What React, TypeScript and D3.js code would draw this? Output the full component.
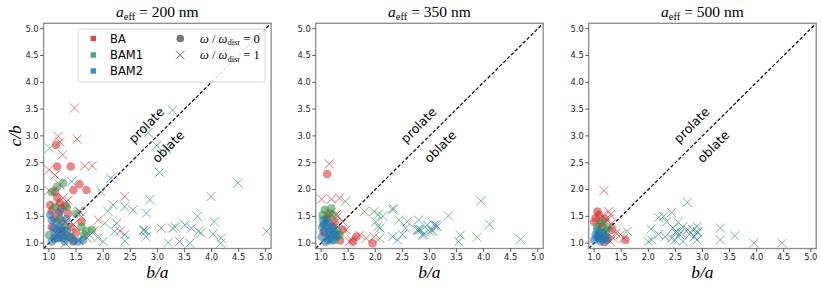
import React from 'react';
import * as d3 from 'd3';

type Pt = [number, number];

const SIZES = ['200', '350', '500'];
const TICKS = [1.0, 1.5, 2.0, 2.5, 3.0, 3.5, 4.0, 4.5, 5.0];
const GROUPS = ['BA', 'BAM1', 'BAM2'];
const COLORS = ['#d62728', '#2e9448', '#1f77b4'];

// a_eff = 200 nm  (circles: omega/omega_disr = 0, crosses: = 1)
const ba200Still: Pt[] = [[1.13,2.83],[1.15,2.43],[1.40,2.43],[1.56,2.10],[1.45,1.99],[1.69,1.99],[1.11,1.96],[1.02,1.71],[1.20,1.75],[1.23,1.65],[1.15,1.85],[1.30,1.70],[1.35,1.55],[1.18,1.55],[1.10,1.45],[1.25,1.40],[1.40,1.30],[1.20,1.25],[1.05,1.30],[1.50,1.20],[1.30,1.15],[1.15,1.10],[1.45,1.05],[1.60,1.40],[1.05,1.60]];
const ba200Spin: Pt[] = [[1.47,3.52],[1.17,2.99],[1.20,2.89],[1.52,2.94],[1.25,2.65],[1.00,2.37],[1.66,2.44],[1.80,2.44],[1.11,2.27],[1.20,2.09],[1.00,1.98],[1.26,1.84],[2.40,1.87],[1.91,1.43],[2.31,1.22],[1.82,1.22],[1.55,1.60],[1.35,1.80],[1.60,1.50],[1.40,1.15],[1.70,1.10],[1.10,1.70],[1.45,1.35],[1.30,1.00],[1.55,1.05],[1.12,1.20]];
const bam1200Still: Pt[] = [[1.26,2.12],[1.11,1.68],[1.33,1.68],[1.79,1.25],[1.69,1.22],[1.05,1.95],[1.15,2.05],[1.50,1.55],[1.20,1.45],[1.30,1.30],[1.40,1.10],[1.00,1.15],[1.60,1.30],[1.65,1.15]];
const bam1200Spin: Pt[] = [[1.01,2.77],[3.28,3.48],[2.83,3.06],[3.17,2.75],[4.49,2.12],[3.99,1.87],[2.86,1.81],[2.09,1.59],[2.40,1.68],[2.03,1.37],[2.74,1.24],[3.07,1.28],[3.28,1.28],[3.33,1.30],[3.76,1.22],[3.80,1.19],[4.05,1.40],[4.18,1.09],[3.20,1.01],[5.02,1.22],[1.55,1.05],[1.90,1.10]];
const bam2200Still: Pt[] = [[1.02,1.53],[1.05,1.43],[1.14,1.40],[1.20,1.31],[1.23,1.22],[1.26,1.09],[1.11,1.16],[1.39,1.12],[1.45,1.03],[1.54,1.03],[1.63,1.06],[1.20,1.59],[1.08,1.28],[1.33,1.22],[1.17,1.09],[1.29,1.03],[1.05,1.03],[1.15,1.25],[1.25,1.15],[1.10,1.08],[1.32,1.45]];
const bam2200Spin: Pt[] = [[2.99,2.82],[3.04,2.32],[1.42,2.15],[2.14,2.21],[1.96,1.96],[2.18,1.71],[2.55,1.62],[2.80,1.56],[3.74,1.50],[3.51,1.34],[3.63,1.28],[4.03,1.17],[4.17,1.00],[3.41,1.03],[3.60,1.00],[2.25,1.37],[2.79,1.22],[2.79,1.12],[2.76,1.25],[2.40,1.04],[2.00,1.03],[2.40,1.16],[1.57,1.59],[2.21,1.22],[1.30,1.40],[1.75,1.15]];

// a_eff = 350 nm
const ba350Still: Pt[] = [[1.11,2.29],[1.65,1.12],[1.59,1.03],[1.95,1.00],[1.40,1.25],[1.25,1.40],[1.10,1.45],[1.20,1.30],[1.05,1.20],[1.30,1.15],[1.15,1.55],[1.35,1.05]];
const ba350Spin: Pt[] = [[1.15,2.48],[1.01,1.82],[1.19,1.82],[1.34,1.84],[1.31,1.50],[1.40,1.40],[1.46,1.25],[1.71,1.15],[1.56,1.06],[1.83,1.09],[1.98,1.12],[1.16,1.56],[1.24,1.37],[1.52,1.03],[1.05,1.30],[1.28,1.53],[1.10,1.10]];
const bam1350Still: Pt[] = [[1.07,1.62],[1.19,1.65],[1.22,1.53],[1.25,1.06],[1.34,1.15],[1.16,1.09],[1.03,1.53],[1.11,1.47],[1.05,1.35],[1.30,1.25]];
const bam1350Spin: Pt[] = [[1.45,1.78],[1.80,1.59],[1.98,1.59],[2.05,1.53],[2.14,1.50],[2.01,1.40],[2.05,1.31],[2.08,1.09],[2.44,1.43],[2.81,1.25],[2.32,1.62],[2.77,1.25],[3.00,1.22],[3.05,1.25],[3.35,1.51],[3.57,1.15],[3.88,1.11],[4.11,1.35],[4.68,1.07]];
const bam2350Still: Pt[] = [[1.04,1.43],[1.10,1.34],[1.07,1.22],[1.16,1.15],[1.13,1.06],[1.22,1.25],[1.28,1.12],[1.19,1.31],[1.01,1.12],[1.08,1.02],[1.20,1.05],[1.02,1.30],[1.15,1.20],[1.25,1.18],[1.12,1.38]];
const bam2350Spin: Pt[] = [[2.09,1.28],[2.33,1.65],[2.32,1.12],[2.41,1.06],[2.50,1.16],[2.56,1.28],[2.59,1.40],[2.80,1.43],[2.80,1.25],[2.84,1.25],[2.90,1.16],[2.96,1.34],[3.08,1.34],[3.14,1.31],[3.12,1.34],[3.05,1.22],[2.87,1.15],[3.54,1.03],[3.95,1.79],[1.05,1.40],[1.10,1.25]];

// a_eff = 500 nm
const ba500Still: Pt[] = [[1.06,1.59],[1.09,1.53],[1.03,1.47],[1.00,1.40],[1.12,1.37],[1.58,1.06],[1.33,1.25],[1.15,1.30],[1.20,1.45],[1.25,1.10],[1.08,1.15],[1.18,1.02]];
const ba500Spin: Pt[] = [[1.18,1.98],[1.27,1.59],[1.30,1.53],[1.24,1.43],[1.33,1.37],[1.27,1.28],[1.40,1.19],[1.21,1.09],[1.30,1.03],[1.49,1.16],[1.55,1.09],[1.15,1.50],[1.35,1.10],[1.22,1.20]];
const bam1500Still: Pt[] = [[1.15,1.40],[1.06,1.31],[1.21,1.22],[1.10,1.20],[1.25,1.30]];
const bam1500Spin: Pt[] = [[1.61,1.22],[2.19,1.48],[2.43,1.57],[2.34,1.40],[2.55,1.39],[2.64,1.30],[2.05,1.26],[2.00,1.03],[3.33,1.28],[3.60,1.14],[3.95,1.00],[4.47,1.00],[2.76,1.16],[2.82,1.25],[2.49,1.06],[2.90,1.22],[2.60,1.20]];
const bam2500Still: Pt[] = [[1.03,1.16],[1.09,1.09],[1.15,1.19],[1.21,1.12],[1.12,1.03],[1.00,1.06],[1.06,1.25],[1.24,1.06],[1.05,1.10],[1.18,1.08],[1.10,1.14]];
const bam2500Spin: Pt[] = [[2.72,1.76],[2.28,1.50],[2.19,1.16],[2.31,1.12],[2.46,1.28],[2.52,1.22],[2.43,1.09],[2.58,1.16],[2.64,1.03],[2.73,1.25],[2.90,1.31],[2.91,1.20],[2.90,1.06],[3.33,1.06],[2.06,1.06],[2.50,1.20],[2.85,1.12]];

const PANEL_DATA = [
  [[ba200Still, ba200Spin], [bam1200Still, bam1200Spin], [bam2200Still, bam2200Spin]],
  [[ba350Still, ba350Spin], [bam1350Still, bam1350Spin], [bam2350Still, bam2350Spin]],
  [[ba500Still, ba500Spin], [bam1500Still, bam1500Spin], [bam2500Still, bam2500Spin]],
];

const W = 822, H = 288;
const LEFTS = [43.6, 315.7, 588.7];
const PW = 227.5;
const TOP = 23.3, BOTTOM = 248.5;
const SERIF = '"Liberation Serif", "DejaVu Serif", serif';
const SANS = '"DejaVu Sans", sans-serif';

const cross = (s: number) => `M${-s},${-s}L${s},${s}M${-s},${s}L${s},${-s}`;

const Panel = ({ idx }: { idx: number }) => {
  const left = LEFTS[idx];
  const x = d3.scaleLinear().domain([0.9, 5.1]).range([left, left + PW]);
  const y = d3.scaleLinear().domain([0.9, 5.1]).range([BOTTOM, TOP]);
  const cx = left + PW / 2;
  const groups = PANEL_DATA[idx];

  return (
    <g>
      {/* diagonal */}
      <line x1={x(0.9)} y1={y(0.9)} x2={x(5.1)} y2={y(5.1)} stroke="#000" strokeWidth={1.2} strokeDasharray="3.5,2" />
      {groups.map((g, gi) => (
        <g key={gi}>
          {g[0].map((p, i) => (
            <circle key={'c' + i} cx={x(p[0])} cy={y(p[1])} r={4.3} fill={COLORS[gi]} fillOpacity={0.55} />
          ))}
          {g[1].map((p, i) => (
            <path key={'x' + i} d={cross(4.6)} transform={`translate(${x(p[0])},${y(p[1])})`} stroke={COLORS[gi]} strokeOpacity={0.65} strokeWidth={1} fill="none" />
          ))}
        </g>
      ))}
      <text transform={`translate(${x(2.8)},${y(3.2)}) rotate(-45)`} textAnchor="middle" dy="0.35em" fontFamily={SANS} fontSize={12.5}>prolate</text>
      <text transform={`translate(${x(3.2)},${y(2.8)}) rotate(-45)`} textAnchor="middle" dy="0.35em" fontFamily={SANS} fontSize={12.5}>oblate</text>

      {/* frame */}
      <rect x={left} y={TOP} width={PW} height={BOTTOM - TOP} fill="none" stroke="#8a8a8a" strokeWidth={1.3} />

      {TICKS.map((t) => (
        <g key={'xt' + t}>
          <line x1={x(t)} x2={x(t)} y1={BOTTOM} y2={BOTTOM + 3.5} stroke="#333" strokeWidth={0.8} />
          <text x={x(t)} y={BOTTOM + 11.5} textAnchor="middle" fontFamily={SANS} fontSize={8.3} fill="#222">{t.toFixed(1)}</text>
          <line x1={left} x2={left - 3.5} y1={y(t)} y2={y(t)} stroke="#333" strokeWidth={0.8} />
          <text x={left - 5} y={y(t)} dy="0.35em" textAnchor="end" fontFamily={SANS} fontSize={8.3} fill="#222">{t.toFixed(1)}</text>
        </g>
      ))}

      <text x={cx} y={17} textAnchor="middle" fontFamily={SERIF} fontSize={15.5}>
        <tspan fontStyle="italic">a</tspan>
        <tspan fontSize={10.5} dy={3}>eff</tspan>
        <tspan dy={-3}>{` = ${SIZES[idx]} nm`}</tspan>
      </text>
      <text x={cx} y={278} textAnchor="middle" fontFamily={SERIF} fontSize={17.5} fontStyle="italic">b/a</text>
    </g>
  );
};

const OmegaLabel = ({ x, y, v }: { x: number; y: number; v: number }) => (
  <text x={x} y={y} dy="0.35em" fontFamily={SERIF} fontSize={12.5}>
    <tspan fontStyle="italic">ω</tspan>
    <tspan>{' / '}</tspan>
    <tspan fontStyle="italic">ω</tspan>
    <tspan fontSize={8.5} dy={2.5}>disr</tspan>
    <tspan dy={-2.5}>{` = ${v}`}</tspan>
  </text>
);

const Legend = () => {
  const rows = [38.5, 55, 71];
  return (
    <g>
      <rect x={78} y={29} width={187} height={53} rx={2.5} fill="#fff" fillOpacity={0.85} stroke="#d0d0d0" strokeWidth={0.9} />
      {GROUPS.map((g, i) => (
        <g key={g}>
          <rect x={93.3 - 2.7} y={rows[i] - 2.7} width={5.4} height={5.4} fill={COLORS[i]} fillOpacity={0.85} />
          <text x={110} y={rows[i]} dy="0.35em" fontFamily={SANS} fontSize={11.5}>{g}</text>
        </g>
      ))}
      <circle cx={180.3} cy={rows[0]} r={3.8} fill="#777" />
      <path d={cross(4.3)} transform={`translate(180.3,${rows[1]})`} stroke="#555" strokeWidth={0.9} fill="none" />
      <OmegaLabel x={200} y={rows[0]} v={0} />
      <OmegaLabel x={200} y={rows[1]} v={1} />
    </g>
  );
};

export default function App() {
  return (
    <svg width={W} height={H} style={{ position: 'absolute', left: 0, top: 0, background: '#fff' }}>
      <rect width={W} height={H} fill="#fff" />
      {SIZES.map((s, i) => (
        <Panel key={s} idx={i} />
      ))}
      <Legend />
      <text transform={`translate(21,${(TOP + BOTTOM) / 2}) rotate(-90)`} textAnchor="middle" fontFamily={SERIF} fontSize={17.5} fontStyle="italic">c/b</text>
    </svg>
  );
}
